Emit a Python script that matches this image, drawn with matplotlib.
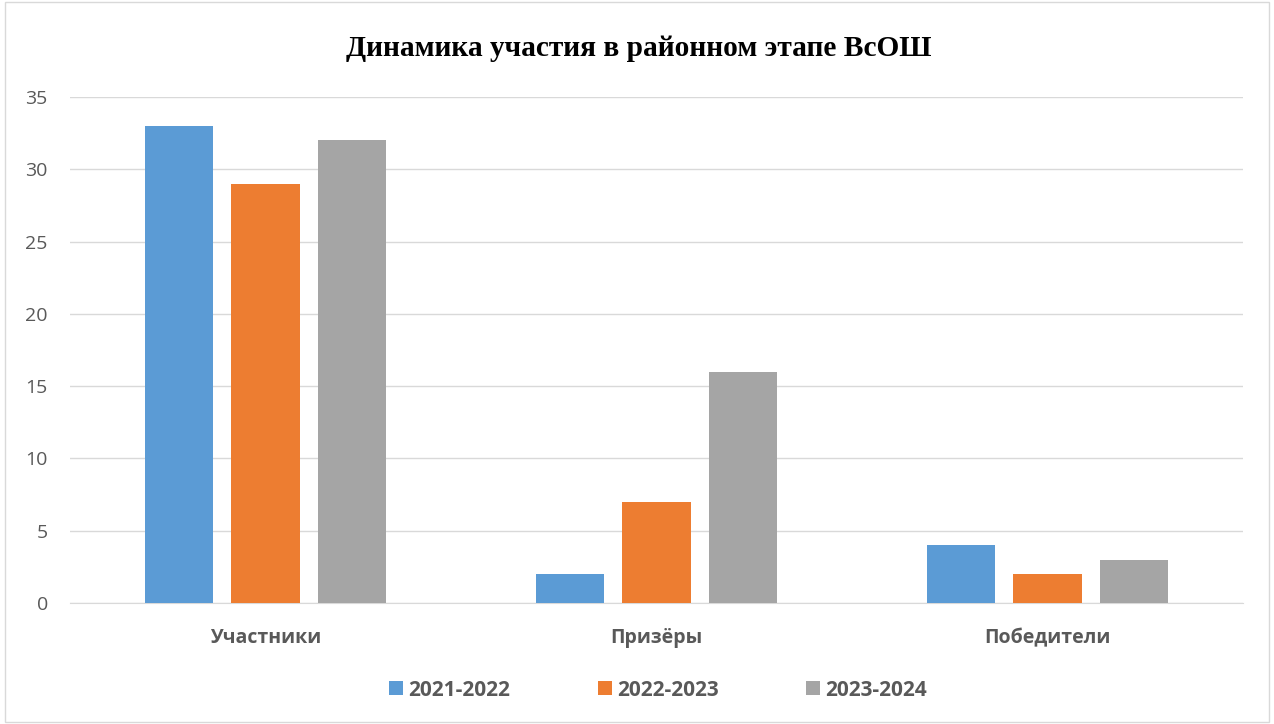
import matplotlib
matplotlib.use("Agg")
import matplotlib.pyplot as plt
from matplotlib.patches import Rectangle
import numpy as np

categories = ["Участники", "Призёры", "Победители"]
series_names = ["2021-2022", "2022-2023", "2023-2024"]
v2021 = [33, 2, 4]
v2022 = [29, 7, 2]
v2023 = [32, 16, 3]
colors = ["#5B9BD5", "#ED7D31", "#A5A5A5"]
title = "Динамика участия в районном этапе ВсОШ"

fig = plt.figure(figsize=(12.74, 7.24), dpi=100)
W, H = 1274, 724
ax = fig.add_axes([70 / W, 1 - 603 / H, (1243 - 70) / W, (603 - 97) / H])

x = np.arange(len(categories))
width = 0.174
step = 0.221
for i, (vals, name, c) in enumerate(zip([v2021, v2022, v2023], series_names, colors)):
    ax.bar(x + (i - 1) * step, vals, width=width, color=c, label=name, zorder=3)

ax.set_xlim(-0.5, 2.5)
ax.set_ylim(0, 35)
ax.set_yticks(range(0, 36, 5))
ax.yaxis.grid(True, color="#D9D9D9", linewidth=1, zorder=0)
ax.set_axisbelow(True)
for s in ["top", "right", "left"]:
    ax.spines[s].set_visible(False)
ax.spines["bottom"].set_color("#D9D9D9")
ax.tick_params(axis="both", length=0)
ax.tick_params(axis="y", labelsize=14, labelcolor="#595959", pad=16)
ax.set_xticks(x)
ax.set_xticklabels(categories, fontsize=14, fontweight="bold", color="#595959",
                   family="Open Sans")
ax.tick_params(axis="x", pad=18)
for lab in ax.get_yticklabels():
    lab.set_family("Open Sans")

fig.text(639 / W, 1 - 48 / H, title, ha="center", va="center",
         fontsize=21.2, fontweight="bold", family="Liberation Serif", color="black")

leg = fig.legend(loc="center", bbox_to_anchor=(658 / W, 1 - 690 / H), ncol=3,
                 frameon=False, prop={"family": "Open Sans", "weight": "bold", "size": 15},
                 handlelength=0.68, handleheight=0.68, handletextpad=0.25, columnspacing=4.2)
for t in leg.get_texts():
    t.set_color("#595959")

fig.patches.append(Rectangle((5 / W, 2 / H), (W - 10) / W, (H - 4) / H,
                             transform=fig.transFigure, fill=False,
                             edgecolor="#D9D9D9", linewidth=1))

fig.savefig("out.png", dpi=100)
